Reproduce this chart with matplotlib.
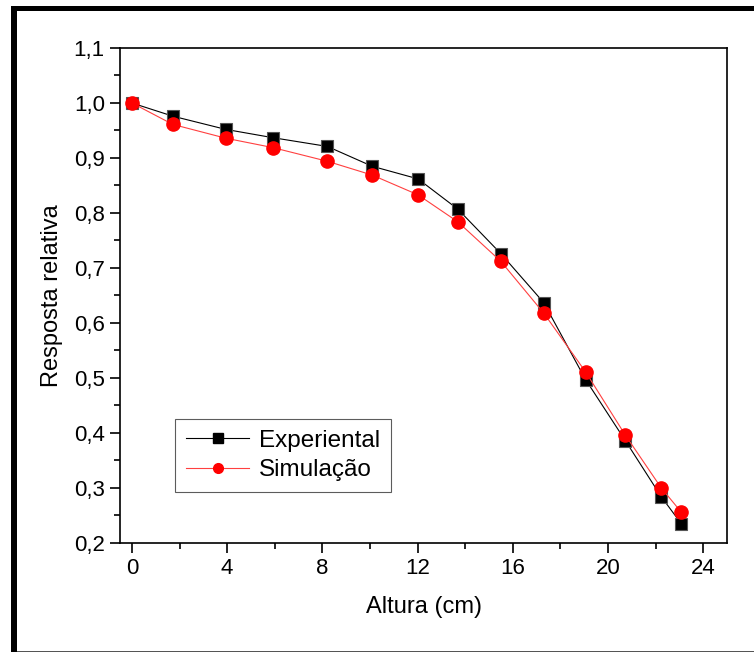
import matplotlib
matplotlib.use('Agg')
import matplotlib.pyplot as plt
from matplotlib.ticker import FuncFormatter, MultipleLocator
from matplotlib.lines import Line2D
from matplotlib.patches import Rectangle

plt.rcParams['font.family'] = ['Liberation Sans', 'DejaVu Sans']

# Altura (cm) e resposta relativa
altura = [0, 1.72, 3.94, 5.91, 8.21, 10.09, 12.02, 13.69, 15.50, 17.30, 19.06, 20.73, 22.24, 23.08]
experimental = [1.000, 0.976, 0.952, 0.937, 0.921, 0.885, 0.862, 0.807, 0.726, 0.637, 0.497, 0.386, 0.284, 0.235]
erro_exp = [0.006, 0.006, 0.006, 0.006, 0.006, 0.006, 0.006, 0.006, 0.006, 0.006, 0.006, 0.006, 0.006, 0.006]
simulacao = [1.000, 0.961, 0.936, 0.919, 0.894, 0.869, 0.833, 0.784, 0.712, 0.618, 0.511, 0.396, 0.300, 0.256]

fig = plt.figure(figsize=(7.54, 6.52), dpi=100)
ax = fig.add_axes([0.1592, 0.1672, 0.8050, 0.7592])

ax.errorbar(altura, experimental, yerr=erro_exp, color='black', lw=0.8,
            marker='s', markersize=9, markerfacecolor='black',
            markeredgecolor='#555555', markeredgewidth=0.8,
            ecolor='black', elinewidth=0.8, capsize=3, zorder=3)
ax.plot(altura, simulacao, color='#ff4040', lw=0.8, marker='o', markersize=9.5,
        markerfacecolor='#ff0000', markeredgecolor='#ff0000', zorder=4)

ax.set_xlim(-0.5, 25)
ax.set_ylim(0.2, 1.1)
ax.xaxis.set_major_locator(MultipleLocator(4))
ax.xaxis.set_minor_locator(MultipleLocator(2))
ax.yaxis.set_major_locator(MultipleLocator(0.1))
ax.yaxis.set_minor_locator(MultipleLocator(0.05))

virgula = FuncFormatter(lambda v, p: f'{v:.1f}'.replace('.', ','))
ax.yaxis.set_major_formatter(virgula)
ax.tick_params(which='major', direction='out', length=7, width=1.2, labelsize=16, pad=4)
ax.tick_params(which='minor', direction='out', length=4, width=1.2)
for s in ax.spines.values():
    s.set_linewidth(1.2)

ax.set_xlabel('Altura (cm)', fontsize=17, labelpad=12)
ax.set_ylabel('Resposta relativa', fontsize=17, labelpad=8)

handles = [
    Line2D([], [], color='black', lw=0.8, marker='s', markersize=7,
           markerfacecolor='black', markeredgecolor='black'),
    Line2D([], [], color='#ff4040', lw=0.8, marker='o', markersize=7,
           markerfacecolor='#ff0000', markeredgecolor='#ff0000'),
]
leg = ax.legend(handles, ['Experiental', 'Simulação'], loc='upper left',
                bbox_to_anchor=(0.0906, 0.2505), fontsize=17.5, frameon=True,
                fancybox=False, edgecolor='#333333', handlelength=2.6,
                handletextpad=0.4, borderpad=0.45, labelspacing=0.3,
                borderaxespad=0)
leg.get_frame().set_linewidth(0.8)

# moldura da janela
fig.add_artist(Rectangle((11 / 754, 0), 5.5 / 754, 1 - 6 / 652, transform=fig.transFigure,
                         facecolor='black', edgecolor='none'))
fig.add_artist(Rectangle((11 / 754, 1 - 11 / 652), 1, 5 / 652, transform=fig.transFigure,
                         facecolor='black', edgecolor='none'))
fig.add_artist(Rectangle((16.5 / 754, 0), 1, 1.5 / 652, transform=fig.transFigure,
                         facecolor='#555555', edgecolor='none'))

fig.savefig('out.png', dpi=100, facecolor='white')
